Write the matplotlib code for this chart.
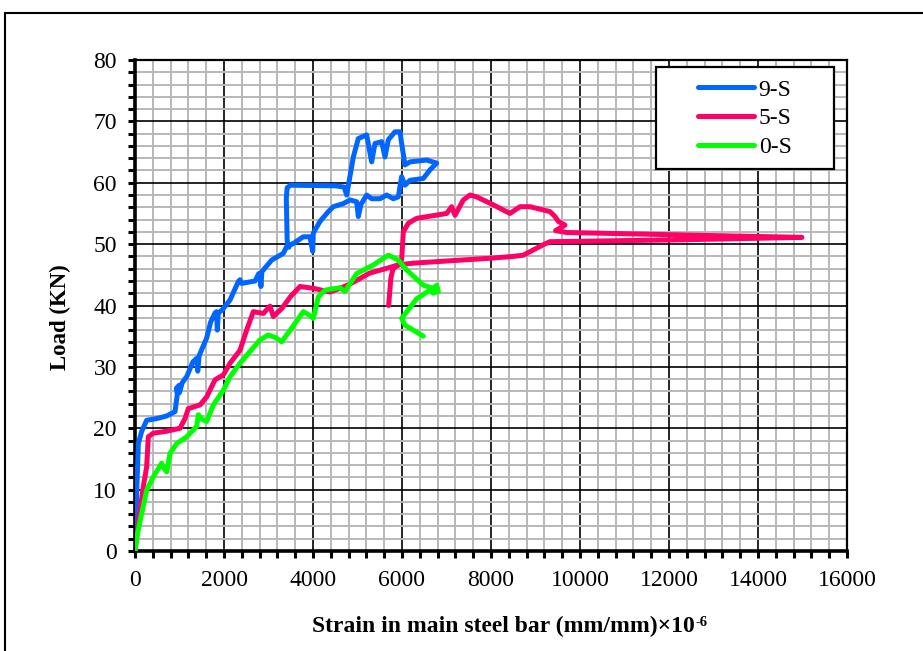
import matplotlib
matplotlib.use("Agg")
import matplotlib.pyplot as plt
from matplotlib.patches import Rectangle
from matplotlib.ticker import MultipleLocator

plt.rcParams['font.family'] = ['Liberation Serif', 'DejaVu Serif']

# Load-strain data for the three specimens
s9_strain = [0, 40, 75, 150, 262, 500, 712, 899, 950, 930, 990, 1000, 1060, 1161, 1300,
             1386, 1410, 1440, 1610, 1700, 1760, 1800, 1835, 1850, 1870, 1985, 2135, 2322,
             2359, 2400, 2700, 2780, 2809, 2830, 2850, 3071, 3333, 3408, 3557, 3782, 3932,
             3993, 4007, 4157, 4345, 4457, 4681, 4831, 4981, 5018, 5080, 5206, 5318, 5505,
             5655, 5805, 5917, 5992, 6067, 6179, 6479, 6629, 6779, 6554, 6179, 6067, 5992,
             5955, 5842, 5692, 5618, 5543, 5393, 5318, 5206, 5018, 4906, 4757, 4700, 4500,
             3500, 3420, 3400, 3420, 3460]
s9_load = [0, 10.0, 17.5, 19.5, 21.3, 21.6, 22.0, 22.7, 25.5, 26.5, 27.0, 25.8, 27.4, 28.4, 30.8,
           31.4, 29.3, 31.8, 34.7, 37.3, 38.2, 38.8, 39.0, 36.0, 38.7, 39.5, 40.9, 43.9,
           44.2, 43.6, 44.0, 45.2, 45.2, 43.1, 45.5, 47.4, 48.5, 49.6, 50.1, 51.2, 51.2,
           48.8, 51.8, 53.7, 55.3, 56.1, 56.6, 57.2, 56.9, 54.5, 56.5, 58.0, 57.4, 57.4,
           58.0, 57.4, 57.7, 61.0, 59.6, 60.4, 60.7, 62.1, 63.2, 63.7, 63.4, 62.9, 66.4,
           68.3, 68.3, 67.0, 64.2, 66.7, 66.4, 63.4, 67.8, 67.2, 64.2, 58.0, 59.3, 59.5,
           59.6, 59.2, 57.5, 50.5, 49.5]

s5_strain = [0, 100, 187, 262, 299, 412, 700, 1011, 1124, 1198, 1461, 1610, 1798, 1985,
             2135, 2359, 2509, 2659, 2883, 3034, 3109, 3296, 3500, 3708, 4007, 4382, 4607,
             4831, 5281, 5730, 5900, 6254, 7977, 8501, 8726, 9174, 9325, 12247, 14988,
             12247, 9700, 9450, 9662, 9512, 9437, 9325, 8876, 8651, 8426, 8051, 7678, 7528,
             7378, 7191, 7116, 7004, 6329, 6142, 6030, 5992, 5950, 5800, 5750, 5700]
s5_load = [0, 6.0, 10.5, 13.7, 18.6, 19.2, 19.5, 20.0, 21.6, 23.2, 23.8, 25.1, 27.9, 28.7,
           30.6, 32.7, 36.0, 39.0, 38.7, 39.9, 38.2, 39.5, 41.5, 43.1, 42.8, 42.2, 42.8,
           43.5, 45.3, 46.2, 46.6, 46.9, 47.7, 48.0, 48.2, 49.9, 50.4, 50.7, 51.1,
           51.5, 51.9, 52.2, 53.1, 53.7, 54.5, 55.3, 56.1, 56.1, 55.0, 56.4, 57.7, 58.0,
           57.2, 54.7, 56.1, 55.0, 54.2, 53.4, 52.0, 47.5, 46.8, 46.0, 44.5, 40.0]

s0_strain = [0, 60, 150, 262, 412, 599, 650, 712, 787, 936, 1161, 1386, 1424, 1500, 1610,
             1760, 1985, 2135, 2359, 2584, 2809, 2996, 3150, 3296, 3521, 3782, 3900, 4007,
             4119, 4270, 4607, 4719, 4981, 5355, 5692, 5917, 6104, 6479, 6704, 6779, 6817,
             6700, 6629, 6329, 5992, 6067, 6479]
s0_load = [0, 3.0, 6.1, 9.9, 12.1, 14.3, 13.5, 12.9, 15.9, 17.5, 18.6, 20.3, 22.2, 21.5, 21.1,
           23.8, 26.2, 28.4, 30.6, 32.5, 34.4, 35.2, 34.8, 34.1, 36.3, 39.0, 38.5, 37.9,
           41.4, 42.5, 42.9, 42.3, 45.2, 46.6, 48.2, 47.4, 45.8, 43.3, 42.8, 43.3, 42.3,
           42.0, 42.5, 41.1, 37.9, 36.8, 35.0]

series_names = ['9-S', '5-S', '0-S']
series_colors = ['#0066ff', '#ff0066', '#00ff00']

W, H = 923, 651
fig = plt.figure(figsize=(W / 100, H / 100), dpi=100)
ax = fig.add_axes([135 / W, 1 - 551 / H, 712 / W, 491 / H])

# outer frame around the figure
fig.patches.append(Rectangle((5 / W, -0.05), 1.2, 1 - 13 / H + 0.05,
                             transform=fig.transFigure, fill=False,
                             edgecolor='black', linewidth=1.5))

ax.set_xlim(0, 16000)
ax.set_ylim(0, 80)
ax.xaxis.set_major_locator(MultipleLocator(2000))
ax.xaxis.set_minor_locator(MultipleLocator(400))
ax.yaxis.set_major_locator(MultipleLocator(10))
ax.yaxis.set_minor_locator(MultipleLocator(2))

ax.grid(which='minor', color='#b8b8b8', linewidth=1.4, zorder=0)
ax.grid(which='major', color='black', linewidth=1.2, zorder=0.5)
ax.set_axisbelow(True)

ax.tick_params(which='both', direction='out', length=5, width=2.2, labelsize=17)
ax.tick_params(axis='y', which='both', pad=8)
ax.tick_params(axis='x', which='both', pad=9)

for side in ['left', 'bottom']:
    ax.spines[side].set_linewidth(2.6)
for side in ['top', 'right']:
    ax.spines[side].set_linewidth(1.6)

lines = []
for xs, ys, name, col in zip([s9_strain, s5_strain, s0_strain],
                             [s9_load, s5_load, s0_load],
                             series_names, series_colors):
    ln, = ax.plot(xs, ys, color=col, linewidth=3.6, label=name,
                  solid_capstyle='round', solid_joinstyle='round', zorder=3)
    lines.append(ln)

# axis titles
xlab = fig.text(503 / W, 1 - 632 / H, 'Strain in main steel bar (mm/mm)×10',
                ha='center', va='baseline', fontsize=17, fontweight='bold')
fig.text(60 / W, 1 - 317.5 / H, 'Load (KN)', rotation=90, ha='center', va='center',
         fontsize=16.5, fontweight='bold')

fig.canvas.draw()
bb = xlab.get_window_extent()
fig.text((bb.x1 + 1.5) / W, 1 - 626 / H, '-6', ha='left', va='baseline',
         fontsize=10.5, fontweight='bold')

# legend box
ax.add_patch(Rectangle((0.7317, 0.778), 0.25, 0.2077, transform=ax.transAxes,
                       facecolor='white', edgecolor='black', linewidth=1.6, zorder=5))
leg = ax.legend(handles=lines, loc='center', bbox_to_anchor=(0.8567, 0.881),
                frameon=False, fontsize=17, handlelength=2.35, handletextpad=0.2,
                labelspacing=0.3, borderpad=0)
leg.set_zorder(6)

fig.savefig('out.png', dpi=100)
